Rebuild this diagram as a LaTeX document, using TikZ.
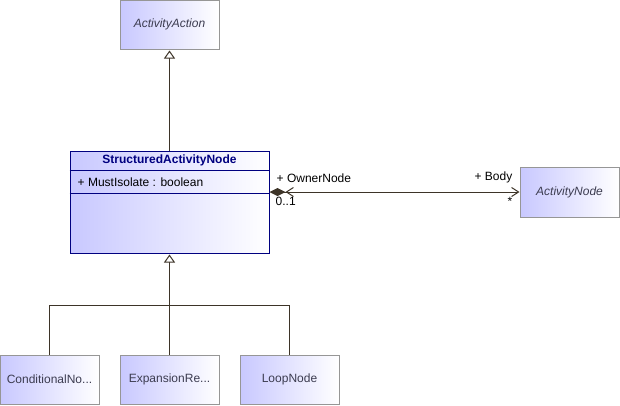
\documentclass[tikz,border=0pt]{standalone}
\usepackage{fontspec}
\setmainfont{Liberation Sans}
\usetikzlibrary{positioning,arrows.meta,calc}

\definecolor{umlline}{RGB}{61,52,40}
\definecolor{umlgray}{RGB}{150,150,150}
\definecolor{umlblue}{RGB}{200,200,255}
\definecolor{umlnavy}{RGB}{0,0,128}
\definecolor{umltext}{RGB}{60,60,80}

\begin{document}
\begin{tikzpicture}[
  x=1pt, y=-1pt,
  every node/.style={font=\fontsize{12}{14}\selectfont},
  cls/.style={draw=umlgray, line width=1pt, left color=umlblue, right color=white,
              minimum width=99pt, minimum height=49pt, inner sep=0pt,
              text=umltext},
  con/.style={draw=umlline, line width=1pt},
  gen/.style={con, -{Triangle[open,length=8pt,width=11pt,fill=white]}, shorten >=1pt},
  lbl/.style={inner sep=1pt, text=black}
]
\useasboundingbox (0,0) rectangle (620,405);

% classes
\node[cls] (act)  at (169.5,24.5)  {\itshape ActivityAction};
\node[cls, draw=umlnavy, minimum width=199pt, minimum height=102pt]
      (san) at (169.5,202) {};
\node[cls, minimum height=50pt] (anode) at (569.5,192) {\itshape ActivityNode};
\node[cls] (cond) at (49.5,379.5)  {ConditionalNo...};
\node[cls] (expr) at (169.5,379.5) {ExpansionRe...};
\node[cls] (loop) at (289.5,379.5) {LoopNode};

% compartments of StructuredActivityNode
\draw[umlnavy, line width=1pt] ($(san.north west)+(0,20)$) -- ($(san.north east)+(0,20)$);
\draw[umlnavy, line width=1pt] ($(san.north west)+(0,43)$) -- ($(san.north east)+(0,43)$);
\node[text=umlnavy, inner sep=0pt] (sanname) at ($(san.north)+(0,10)$)
      {\bfseries StructuredActivityNode};
\node[anchor=west, inner sep=0pt, text=black] (sanattr) at ($(san.north west)+(8,32)$)
      {+ MustIsolate : boolean};

% generalizations
\draw[gen] (san.north) -- (act.south);
\coordinate (bar) at (170,305);
\draw[con] (cond.north) |- (bar);
\draw[con] (loop.north) |- (bar);
\draw[gen] (expr.north) -- (san.south);

% association
\draw[con, {Diamond[length=16pt,width=8pt,fill=umlline]Straight Barb[length=7pt,width=9pt]}-{Straight Barb[length=7pt,width=9pt]}]
  (san.east |- anode.west) -- (anode.west);
\node[lbl, anchor=south west] (own)  at ($(san.east |- anode.west)+(6,-8)$) {+ OwnerNode};
\node[lbl, anchor=north west] (ownm) at ($(san.east |- anode.west)+(5,4)$) {0..1};
\node[lbl, anchor=south east] (body) at ($(anode.west)+(-6,-8)$) {+ Body};
\node[lbl, anchor=north east] (bodym) at ($(anode.west)+(-6,4)$) {*};
\end{tikzpicture}
\end{document}
